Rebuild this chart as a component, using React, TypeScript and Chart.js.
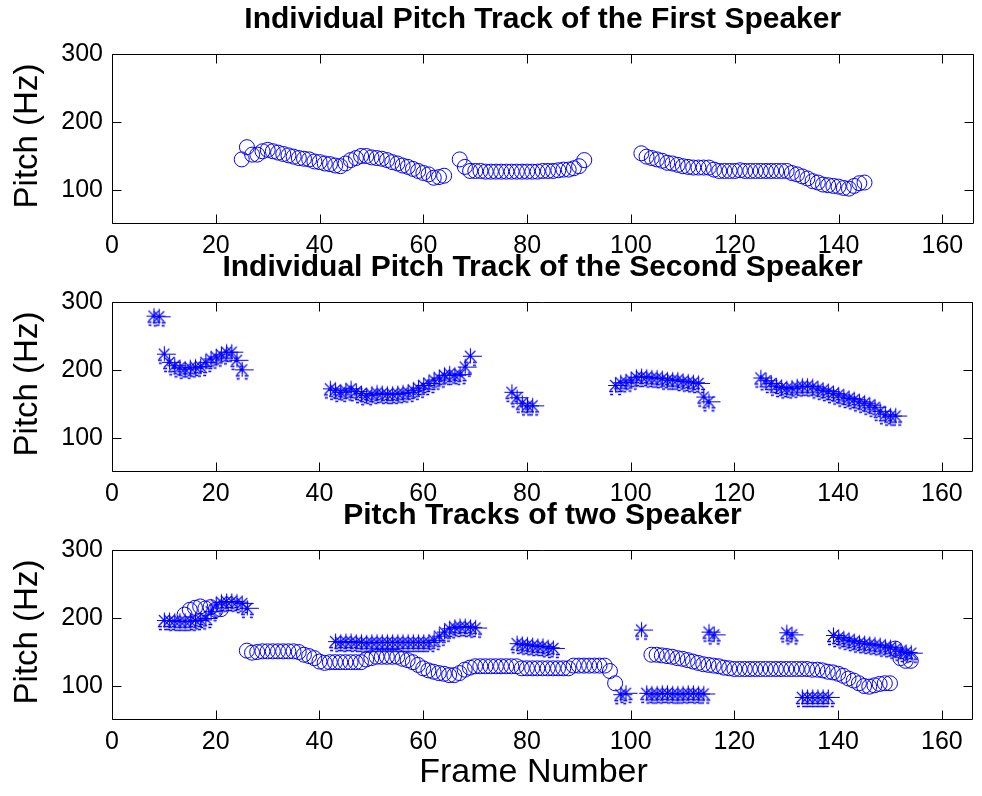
import { useEffect, useRef } from 'react';
import { Chart, registerables } from 'chart.js';

Chart.register(...registerables);

const FONT = '"Liberation Sans", Arial, Helvetica, sans-serif';
const BLUE = '#0000ff';

// Axis setup shared by all three panels
const xTicks = [0, 20, 40, 60, 80, 100, 120, 140, 160];
const yTicks = [100, 200, 300];
const xMax = 166;
const yMin = 50;
const yMax = 300;

const panelTitles = [
  'Individual Pitch Track of the First Speaker',
  'Individual Pitch Track of the Second Speaker',
  'Pitch Tracks of two Speaker',
];
const yLabel = 'Pitch (Hz)';
const xLabel = 'Frame Number';

// First speaker (circles): start frame of each voiced segment and its pitch values
const spk1Starts = [25, 67, 102];
const spk1SegA = [
  145, 163, 152, 152, 157, 159, 157, 155, 153, 151,
  149, 147, 146, 145, 142, 141, 139, 138, 136, 135,
  139, 144, 147, 150, 150, 148, 147, 146, 144, 141,
  139, 136, 134, 131, 128, 125, 123, 118, 119, 121,
];
const spk1SegB = [
  145, 134, 128, 128, 128, 127, 127, 127, 127, 127,
  127, 127, 127, 127, 127, 127, 128, 128, 128, 129,
  130, 130, 132, 135, 144,
];
const spk1SegC = [
  154, 149, 147, 145, 143, 140, 139, 137, 135, 134,
  133, 133, 133, 133, 130, 128, 128, 128, 128, 129,
  128, 128, 128, 128, 128, 128, 128, 128, 128, 125,
  123, 120, 117, 113, 111, 108, 107, 106, 105, 103,
  102, 106, 110, 111,
];

// Second speaker (asterisks)
const spk2Starts = [8, 10, 42, 77, 97, 125];
const spk2SegA = [280, 279];
const spk2SegB = [224, 212, 207, 204, 202, 204, 205, 206, 212, 217, 220, 223, 227, 227, 215, 201];
const spk2SegC = [
  173, 171, 168, 170, 173, 169, 166, 163, 165, 167,
  166, 165, 165, 166, 167, 168, 171, 174, 178, 181,
  186, 189, 193, 195, 193, 194, 205, 221,
];
const spk2SegD = [168, 160, 152, 148, 148];
const spk2SegE = [178, 182, 183, 186, 190, 191, 190, 189, 189, 188, 186, 186, 186, 184, 183, 182, 181, 161, 154];
const spk2SegF = [
  189, 185, 181, 177, 175, 173, 174, 176, 177, 177,
  176, 173, 171, 169, 166, 164, 161, 159, 157, 154,
  152, 149, 146, 140, 135, 133, 133,
];

// Joint tracking result: circle track
const mixCircleStarts = [14, 26, 104, 151];
const mixCircleSegA = [205, 212, 215, 217, 214, 216, 212, 213];
const mixCircleSegB = [
  152, 149, 150, 151, 151, 151, 151, 151, 151, 151,
  150, 146, 144, 141, 136, 134, 135, 135, 135, 135,
  135, 135, 135, 139, 141, 143, 143, 143, 143, 143,
  140, 138, 135, 131, 126, 123, 121, 119, 118, 116,
  116, 119, 124, 127, 129, 129, 129, 129, 129, 129,
  129, 129, 129, 126, 126, 126, 126, 126, 126, 126,
  126, 126, 126, 130, 130, 130, 130, 130, 130, 130,
  122, 104,
];
const mixCircleSegC = [
  146, 146, 145, 144, 143, 141, 140, 138, 136, 134,
  132, 131, 130, 129, 127, 126, 125, 125, 125, 125,
  125, 125, 125, 125, 125, 125, 125, 125, 125, 125,
  125, 124, 124, 123, 121, 120, 118, 115, 111, 108,
  104, 100, 99, 101, 103, 104, 104,
];
const mixCircleSegD = [155, 141, 137, 137];

// Joint tracking result: asterisk track
const mixStarStarts = [10, 43, 78, 98, 102, 103, 115, 130, 133, 139];
const mixStarSegA = [197, 197, 196, 196, 196, 196, 197, 198, 200, 210, 220, 224, 225, 225, 224, 222, 215];
const mixStarSegB = [
  166, 165, 166, 166, 165, 165, 164, 165, 165, 165,
  165, 165, 165, 165, 165, 165, 165, 165, 165, 168,
  174, 180, 185, 187, 188, 188, 187, 186,
];
const mixStarSegC = [163, 162, 161, 160, 159, 159, 157, 156];
const mixStarSegD = [88, 90];
const mixStarSegE = [183];
const mixStarSegF = [90, 89, 89, 90, 90, 89, 89, 89, 90, 90, 89, 89];
const mixStarSegG = [180, 176];
const mixStarSegH = [179, 176];
const mixStarSegI = [84, 84, 84, 84, 84, 84];
const mixStarSegJ = [175, 172, 170, 168, 166, 164, 163, 162, 161, 160, 158, 157, 155, 152, 150, 149];

type Pt = { x: number; y: number };

function toPoints(starts: number[], segs: number[][]): Pt[] {
  const out: Pt[] = [];
  segs.forEach((seg, s) => {
    seg.forEach((v, i) => out.push({ x: starts[s] + i, y: v }));
  });
  return out;
}

const spk1Points = toPoints(spk1Starts, [spk1SegA, spk1SegB, spk1SegC]);
const spk2Points = toPoints(spk2Starts, [spk2SegA, spk2SegB, spk2SegC, spk2SegD, spk2SegE, spk2SegF]);
const mixCirclePoints = toPoints(mixCircleStarts, [mixCircleSegA, mixCircleSegB, mixCircleSegC, mixCircleSegD]);
const mixStarPoints = toPoints(mixStarStarts, [
  mixStarSegA, mixStarSegB, mixStarSegC, mixStarSegD, mixStarSegE,
  mixStarSegF, mixStarSegG, mixStarSegH, mixStarSegI, mixStarSegJ,
]);

// Page geometry
const W = 982;
const PLOT_LEFT = 112;
const PLOT_RIGHT_GAP = 2;
const PAD_TOP = 54;
const PLOT_H = 170;
const PANEL_STEP = 248;
const TICK_LEN = 9;

// Asterisk marker glyph (with the jagged underline strokes of the print)
let starGlyph: HTMLCanvasElement | null = null;
function getStarGlyph(): HTMLCanvasElement {
  if (starGlyph) return starGlyph;
  const c = document.createElement('canvas');
  c.width = 40;
  c.height = 40;
  const g = c.getContext('2d')!;
  g.translate(20, 20);
  g.strokeStyle = BLUE;
  g.lineWidth = 1.1;
  g.beginPath();
  g.moveTo(0.5, -7.5); g.lineTo(0.5, 7.5);
  g.moveTo(-5, -5); g.lineTo(5.5, 5.5);
  g.moveTo(-5, 5.5); g.lineTo(5.5, -5);
  g.moveTo(-7, 0.5); g.lineTo(12, 0.5);
  g.stroke();
  g.lineWidth = 1.4;
  g.beginPath();
  g.moveTo(-6, 6.5); g.lineTo(-2, 6.5);
  g.moveTo(3, 6.5); g.lineTo(7, 6.5);
  g.moveTo(-5, 9.5); g.lineTo(-2, 9.5);
  g.moveTo(3, 9.5); g.lineTo(6, 9.5);
  g.stroke();
  starGlyph = c;
  return c;
}

function circleSet(data: Pt[]) {
  return {
    data,
    showLine: false,
    pointStyle: 'circle',
    pointRadius: 7.5,
    pointBorderWidth: 1,
    borderColor: BLUE,
    pointBorderColor: BLUE,
    backgroundColor: 'rgba(0,0,0,0)',
    pointBackgroundColor: 'rgba(0,0,0,0)',
  };
}

function starSet(data: Pt[]) {
  return {
    data,
    showLine: false,
    pointStyle: getStarGlyph(),
    pointRadius: 8,
    pointBorderWidth: 1,
    borderColor: BLUE,
    pointBorderColor: BLUE,
    backgroundColor: 'rgba(0,0,0,0)',
    pointBackgroundColor: 'rgba(0,0,0,0)',
  };
}

// Box, inward ticks on all four sides, panel title and axis labels
const panelDecor = {
  id: 'panelDecor',
  afterDraw(chart: any, _args: any, opts: any) {
    const { ctx, chartArea, scales } = chart;
    const left = Math.round(chartArea.left) + 0.5;
    const right = Math.round(chartArea.right) - 0.5;
    const top = Math.round(chartArea.top) + 0.5;
    const bottom = Math.round(chartArea.bottom) - 0.5;
    ctx.save();
    ctx.strokeStyle = '#000';
    ctx.lineWidth = 1;
    ctx.beginPath();
    ctx.rect(left, top, right - left, bottom - top);
    for (const v of xTicks) {
      const px = Math.round(scales.x.getPixelForValue(v)) + 0.5;
      ctx.moveTo(px, bottom);
      ctx.lineTo(px, bottom - TICK_LEN);
      ctx.moveTo(px, top);
      ctx.lineTo(px, top + TICK_LEN);
    }
    for (const v of yTicks) {
      const py = Math.round(scales.y.getPixelForValue(v)) + 0.5;
      ctx.moveTo(left, py);
      ctx.lineTo(left + TICK_LEN, py);
      ctx.moveTo(right, py);
      ctx.lineTo(right - TICK_LEN, py);
    }
    ctx.stroke();

    ctx.fillStyle = '#000';
    const cx = (chartArea.left + chartArea.right) / 2;
    ctx.font = `bold 30px ${FONT}`;
    ctx.textAlign = 'center';
    ctx.textBaseline = 'alphabetic';
    ctx.fillText(opts.title, cx, chartArea.top - 26);

    ctx.save();
    ctx.translate(37, (chartArea.top + chartArea.bottom) / 2 - 3);
    ctx.rotate(-Math.PI / 2);
    ctx.font = `33px ${FONT}`;
    ctx.textAlign = 'center';
    ctx.fillText(yLabel, 0, 0);
    ctx.restore();

    if (opts.xLabel) {
      ctx.font = `34px ${FONT}`;
      ctx.textAlign = 'center';
      ctx.fillText(opts.xLabel, cx - 9, chartArea.bottom + 62);
    }
    ctx.restore();
  },
};

type PanelProps = {
  index: number;
  title: string;
  series: Pt[][];
  kinds: ('circle' | 'star')[];
  withXLabel: boolean;
};

function Panel({ index, title, series, kinds, withXLabel }: PanelProps) {
  const ref = useRef<HTMLCanvasElement | null>(null);
  const height = withXLabel ? 796 - index * PANEL_STEP : PAD_TOP + PLOT_H + 40;
  const xAxisH = height - PAD_TOP - PLOT_H;

  useEffect(() => {
    if (!ref.current) return;
    const datasets = series.map((pts, i) => (kinds[i] === 'circle' ? circleSet(pts) : starSet(pts)));
    const chart = new Chart(ref.current, {
      type: 'scatter',
      data: { datasets },
      plugins: [panelDecor],
      options: {
        responsive: false,
        animation: false,
        events: [],
        layout: { padding: { top: PAD_TOP, right: PLOT_RIGHT_GAP, left: 0, bottom: 0 } },
        plugins: {
          legend: { display: false },
          tooltip: { enabled: false },
          title: { display: false },
          panelDecor: { title, xLabel: withXLabel ? xLabel : '' },
        } as any,
        scales: {
          x: {
            type: 'linear',
            min: 0,
            max: xMax,
            grid: { display: false, drawTicks: false },
            border: { display: false },
            ticks: {
              color: '#000',
              font: { family: FONT, size: 25 },
              padding: 7,
              maxRotation: 0,
              autoSkip: false,
            },
            afterBuildTicks: (s: any) => {
              s.ticks = xTicks.map((v) => ({ value: v }));
            },
            afterFit: (s: any) => {
              s.height = xAxisH;
            },
          },
          y: {
            type: 'linear',
            min: yMin,
            max: yMax,
            grid: { display: false, drawTicks: false },
            border: { display: false },
            ticks: {
              color: '#000',
              font: { family: FONT, size: 25 },
              padding: 9,
            },
            afterBuildTicks: (s: any) => {
              s.ticks = yTicks.map((v) => ({ value: v }));
            },
            afterFit: (s: any) => {
              s.width = PLOT_LEFT;
            },
          },
        },
      } as any,
    });
    return () => chart.destroy();
  }, []);

  return (
    <canvas
      ref={ref}
      width={W}
      height={height}
      style={{ position: 'absolute', left: 0, top: index * PANEL_STEP, width: W, height }}
    />
  );
}

export default function App() {
  return (
    <div style={{ position: 'absolute', left: 0, top: 0, width: W, height: 796, background: '#fff', overflow: 'hidden' }}>
      <Panel index={0} title={panelTitles[0]} series={[spk1Points]} kinds={['circle']} withXLabel={false} />
      <Panel index={1} title={panelTitles[1]} series={[spk2Points]} kinds={['star']} withXLabel={false} />
      <Panel
        index={2}
        title={panelTitles[2]}
        series={[mixCirclePoints, mixStarPoints]}
        kinds={['circle', 'star']}
        withXLabel={true}
      />
    </div>
  );
}
